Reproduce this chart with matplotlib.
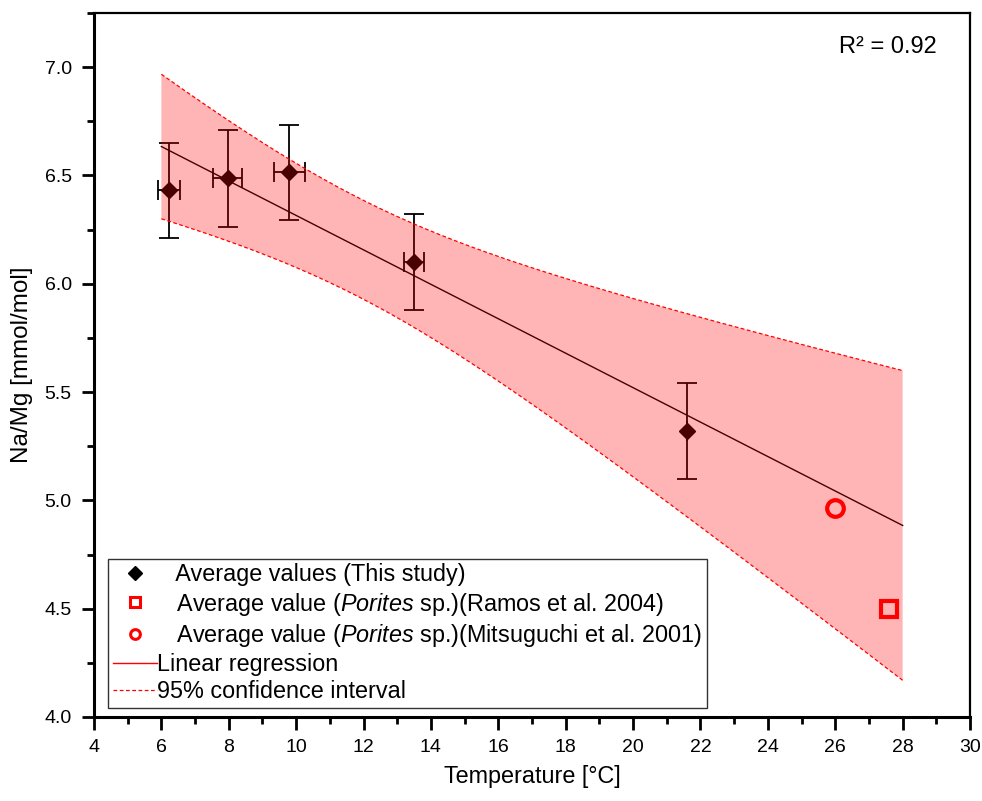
import numpy as np
import matplotlib
matplotlib.use("Agg")
import matplotlib.pyplot as plt
from matplotlib.ticker import MultipleLocator, FormatStrFormatter
from matplotlib.lines import Line2D

plt.rcParams['font.family'] = ['Liberation Sans', 'DejaVu Sans']
plt.rcParams['mathtext.fontset'] = 'custom'
plt.rcParams['mathtext.rm'] = 'Liberation Sans'
plt.rcParams['mathtext.it'] = 'Liberation Sans:italic'

# Data (this study)
temp = [6.22, 7.97, 9.80, 13.50, 21.59]
temp_err = [0.33, 0.43, 0.47, 0.30, 0.0]
namg = [6.432, 6.488, 6.515, 6.10, 5.32]
namg_err = [0.22, 0.224, 0.22, 0.222, 0.222]

# Literature values
ramos_t = [27.6]
ramos_v = [4.50]
mitsu_t = [26.0]
mitsu_v = [4.965]

fit_range = [6.0, 28.0]

fig = plt.figure(figsize=(9.82, 8.01), dpi=100)
ax = fig.add_axes([0.0957, 0.1049, 0.8921, 0.8789])

x = np.array(temp)
y = np.array(namg)
n = len(x)
slope, intercept = np.polyfit(x, y, 1)
resid = y - (slope * x + intercept)
s = np.sqrt(np.sum(resid ** 2) / (n - 2))
sxx = np.sum((x - x.mean()) ** 2)
tval = 3.182
r2 = 1 - np.sum(resid ** 2) / np.sum((y - y.mean()) ** 2)

xf = np.linspace(fit_range[0], fit_range[1], 200)
yf = slope * xf + intercept
half = tval * s * np.sqrt(1.0 / n + (xf - x.mean()) ** 2 / sxx)
upper = yf + half
lower = yf - half

# error bars and points (black, beneath transparent fill)
ax.errorbar(temp, namg, yerr=namg_err, xerr=temp_err, fmt='none', ecolor='black',
            elinewidth=1.3, capsize=7, capthick=1.3, zorder=2)
ax.plot(temp, namg, linestyle='none', marker='D', markersize=8, color='black', zorder=3)
ax.plot(xf, yf, color='black', linewidth=1.0, zorder=2)

# confidence band
ax.fill_between(xf, lower, upper, facecolor=(1, 0, 0, 0.29), edgecolor='none', zorder=4)
ax.plot(xf, upper, color='red', linestyle=(0, (3, 2)), linewidth=0.9, zorder=5)
ax.plot(xf, lower, color='red', linestyle=(0, (3, 2)), linewidth=0.9, zorder=5)

ax.plot(ramos_t, ramos_v, linestyle='none', marker='s', markersize=11, markerfacecolor='none',
        markeredgecolor='red', markeredgewidth=3, zorder=6)
ax.plot(mitsu_t, mitsu_v, linestyle='none', marker='o', markersize=12, markerfacecolor='none',
        markeredgecolor='red', markeredgewidth=3, zorder=6)

ax.set_xlim(4, 30)
ax.set_ylim(4.0, 7.25)
ax.xaxis.set_major_locator(MultipleLocator(2))
ax.xaxis.set_minor_locator(MultipleLocator(1))
ax.yaxis.set_major_locator(MultipleLocator(0.5))
ax.yaxis.set_minor_locator(MultipleLocator(0.25))
ax.yaxis.set_major_formatter(FormatStrFormatter('%.1f'))

ax.tick_params(which='major', direction='out', length=9, width=2, labelsize=14, pad=7)
ax.tick_params(which='minor', direction='out', length=5, width=2)
ax.tick_params(top=False, right=False)
for side in ['left', 'bottom']:
    ax.spines[side].set_linewidth(2.2)
for side in ['top', 'right']:
    ax.spines[side].set_linewidth(1.6)

ax.set_xlabel('Temperature [°C]', fontsize=16.8, labelpad=6)
ax.set_ylabel('Na/Mg [mmol/mol]', fontsize=17.5, labelpad=8)

ax.text(0.962, 0.952, 'R² = %.2f' % r2, transform=ax.transAxes, ha='right', va='center',
        fontsize=17)

handles = [
    Line2D([], [], linestyle='none', marker='D', markersize=7, color='black'),
    Line2D([], [], linestyle='none', marker='s', markersize=7, markerfacecolor='none',
           markeredgecolor='red', markeredgewidth=2.2),
    Line2D([], [], linestyle='none', marker='o', markersize=7, markerfacecolor='none',
           markeredgecolor='red', markeredgewidth=2.2),
    Line2D([], [], color='red', linewidth=1.0),
    Line2D([], [], color='red', linewidth=0.9, linestyle=(0, (3, 2))),
]
labels = [
    '   Average values (This study)',
    '   Average value ($\\mathit{Porites}$ sp.)(Ramos et al. 2004)',
    '   Average value ($\\mathit{Porites}$ sp.)(Mitsuguchi et al. 2001)',
    'Linear regression',
    '95% confidence interval',
]
leg = ax.legend(handles, labels, loc='lower left', bbox_to_anchor=(0.016, 0.013),
                borderaxespad=0, fontsize=16.8, frameon=True, fancybox=False,
                edgecolor='black', handlelength=1.9, handletextpad=0.0,
                labelspacing=0.18, borderpad=0.2)
leg.get_frame().set_linewidth(1.0)
leg.set_zorder(10)

fig.savefig('out.png', dpi=100)
